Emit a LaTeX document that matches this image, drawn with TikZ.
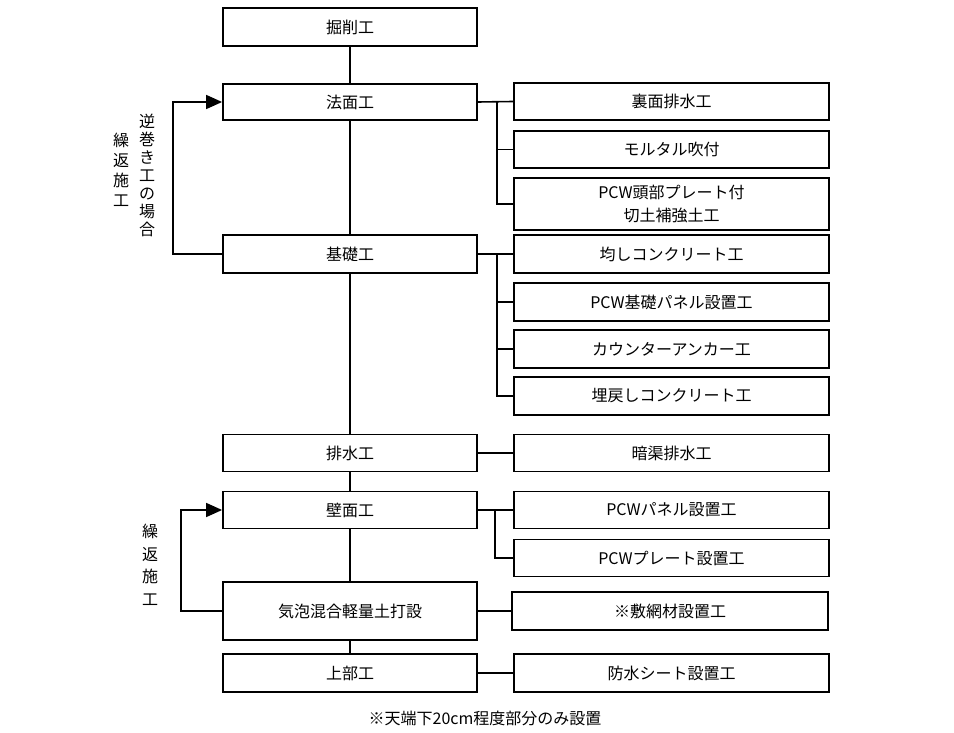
\documentclass[tikz,border=0pt]{standalone}
\usepackage{fontspec}
\setmainfont{Noto Sans CJK JP}
\usetikzlibrary{arrows.meta,positioning}

\begin{document}
\begin{tikzpicture}[
    x=1pt, y=-1pt,
    box/.style={draw, line width=1.8pt, align=center, minimum height=38pt, inner sep=0pt, font=\fontsize{16}{19}\selectfont},
    mainbox/.style={box, minimum width=254pt},
    subbox/.style={box, minimum width=315pt},
    link/.style={line width=1.6pt},
    arrow/.style={link, -{Triangle[length=16pt, width=14pt]}},
    vlabel/.style={align=center, inner sep=0pt, font=\fontsize{16}{18}\selectfont}
]
\useasboundingbox (0,0) rectangle (954,733);

% main column
\node[mainbox] (dig) at (350,27) {掘削工};
\node[mainbox, minimum height=36pt] (slope) at (350,102) {法面工};
\node[mainbox] (found) at (350,254) {基礎工};
\node[mainbox, minimum height=37pt] (drain) at (350,453) {排水工};
\node[mainbox, minimum height=37pt] (wall) at (350,510) {壁面工};
\node[mainbox, minimum height=58pt] (foam) at (350,611) {気泡混合軽量土打設};
\node[mainbox] (upper) at (350,673) {上部工};

% sub works
\node[subbox, minimum height=37pt] (backdrain) at (671.5,101.5) {裏面排水工};
\node[subbox, minimum height=37pt] (mortar) at (671.5,149.5) {モルタル吹付};
\node[subbox, minimum height=52pt, font=\fontsize{16}{23}\selectfont] (nail) at (671.5,204) {PCW頭部プレート付\\切土補強土工};
\node[subbox] (level) at (671.5,254) {均しコンクリート工};
\node[subbox] (basepanel) at (671.5,302) {PCW基礎パネル設置工};
\node[subbox] (anchor) at (671.5,349) {カウンターアンカー工};
\node[subbox] (backfill) at (671.5,396) {埋戻しコンクリート工};
\node[subbox, minimum height=37pt] (culvert) at (671.5,453) {暗渠排水工};
\node[subbox, minimum height=37pt] (panel) at (671.5,510) {PCWパネル設置工};
\node[subbox, minimum height=37pt] (plate) at (671.5,558) {PCWプレート設置工};
\node[subbox, minimum width=316pt] (mesh) at (670,611) {※敷網材設置工};
\node[subbox] (sheet) at (671.5,673) {防水シート設置工};

% side labels
\node[vlabel] (revcase) at (147,175) {逆\\巻\\き\\工\\の\\場\\合};
\node[vlabel, font=\fontsize{16}{20}\selectfont] (repeatA) at (121,170) {繰\\返\\施\\工};
\node[vlabel, font=\fontsize{16}{22.5}\selectfont] (repeatB) at (150,565) {繰\\返\\施\\工};

\node[font=\fontsize{16}{19}\selectfont] (note) at (485,718) {※天端下20cm程度部分のみ設置};

% flow
\draw[link] (dig) -- (slope);
\draw[link] (slope) -- (found);
\draw[link] (found) -- (drain);
\draw[link] (drain) -- (wall);
\draw[link] (wall) -- (foam);
\draw[link] (foam) -- (upper);

% branches
\coordinate (busA) at (497,102);
\coordinate (busB) at (497,254);
\coordinate (busC) at (495,510);
\draw[link] (slope.east) -- (backdrain.west);
\draw[link] (busA) |- (mortar.west);
\draw[link] (busA) |- (nail.west);
\draw[link] (found.east) -- (level.west);
\draw[link] (busB) |- (basepanel.west);
\draw[link] (busB) |- (anchor.west);
\draw[link] (busB) |- (backfill.west);
\draw[link] (drain.east) -- (culvert.west);
\draw[link] (wall.east) -- (panel.west);
\draw[link] (busC) |- (plate.west);
\draw[link] (foam.east) -- (mesh.west);
\draw[link] (upper.east) -- (sheet.west);

% repeat loops
\draw[arrow] (found.west) -- ++(-49,0) |- (slope.west);
\draw[arrow] (foam.west) -- ++(-41,0) |- (wall.west);
\end{tikzpicture}
\end{document}
